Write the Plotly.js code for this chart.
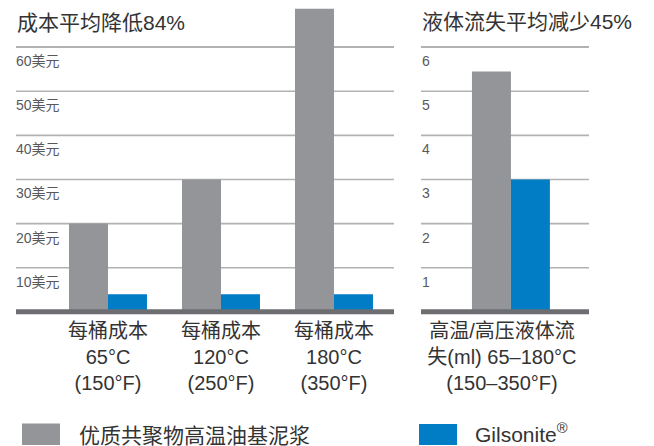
<!DOCTYPE html>
<html>
<head>
<meta charset="utf-8">
<script src="https://cdn.plot.ly/plotly-3.0.1.min.js"></script>
<style>
html,body{margin:0;padding:0;background:#fff;}
#chart{width:654px;height:446px;}
</style>
</head>
<body>
<div id="chart"></div>
<script>
// ---- data ----
var costCategories = ["每桶成本<br>65°C<br>(150°F)", "每桶成本<br>120°C<br>(250°F)", "每桶成本<br>180°C<br>(350°F)"];
var costPolymer = [20, 30, 68.7];
var costGilsonite = [4, 4, 4];
var costTickVals = [10, 20, 30, 40, 50, 60];
var costTickText = ["10美元", "20美元", "30美元", "40美元", "50美元", "60美元"];

var fluidCategories = ["高温/高压液体流<br>失(ml) 65–180°C<br>(150–350°F)"];
var fluidPolymer = [5.45];
var fluidGilsonite = [3.0];
var fluidTickVals = [1, 2, 3, 4, 5, 6];
var fluidTickText = ["1", "2", "3", "4", "5", "6"];

var seriesNames = ["优质共聚物高温油基泥浆", "Gilsonite<sup>®</sup>"];
var chartTitles = ["成本平均降低84%", "液体流失平均减少45%"];

// ---- style ----
var GRAY = "#939598", BLUE = "#007dc5";
var GRID = "#b2b2b2";
var FONT = "Liberation Sans, Arial, 'Noto Sans CJK SC', sans-serif";
var W = 654, H = 446;
function px(x){ return x / W; }
function py(y){ return 1 - y / H; }

var traces = [
  {type: "bar", x: costCategories, y: costPolymer, name: seriesNames[0], marker: {color: GRAY}, xaxis: "x", yaxis: "y", hoverinfo: "none"},
  {type: "bar", x: costCategories, y: costGilsonite, name: seriesNames[1], marker: {color: BLUE}, xaxis: "x", yaxis: "y", hoverinfo: "none"},
  {type: "bar", x: fluidCategories, y: fluidPolymer, name: seriesNames[0], marker: {color: GRAY}, xaxis: "x2", yaxis: "y2", hoverinfo: "none"},
  {type: "bar", x: fluidCategories, y: fluidGilsonite, name: seriesNames[1], marker: {color: BLUE}, xaxis: "x2", yaxis: "y2", hoverinfo: "none"}
];

var yDom = [1 - 316.2 / H, 1 - 3.1 / H];

var yCommon = {
  showgrid: true, gridcolor: GRID, gridwidth: 1.6,
  zeroline: false, showline: false, ticks: "", showticklabels: false,
  tickmode: "array",
  domain: yDom, fixedrange: true
};
var xCommon = {
  type: "category", showgrid: false, zeroline: false, showline: false, ticks: "",
  tickfont: {family: FONT, size: 20, color: "#333333"}, fixedrange: true
};

var shapes = [
  {type: "line", xref: "x domain", yref: "y", x0: 0, x1: 1, y0: 0, y1: 0, line: {color: "#6d6e71", width: 5}, layer: "above"},
  {type: "line", xref: "x2 domain", yref: "y2", x0: 0, x1: 1, y0: 0, y1: 0, line: {color: "#6d6e71", width: 5}, layer: "above"},
  {type: "rect", xref: "paper", yref: "paper", x0: px(22), x1: px(60), y0: py(445), y1: py(423.5), fillcolor: GRAY, line: {width: 0}},
  {type: "rect", xref: "paper", yref: "paper", x0: px(419), x1: px(457), y0: py(445), y1: py(424), fillcolor: BLUE, line: {width: 0}}
];

var annotations = [
  {xref: "paper", yref: "paper", x: px(15), y: py(22), xanchor: "left", yanchor: "middle", showarrow: false, text: chartTitles[0], font: {family: FONT, size: 21, color: "#333333"}},
  {xref: "paper", yref: "paper", x: px(420), y: py(21), xanchor: "left", yanchor: "middle", showarrow: false, text: chartTitles[1], font: {family: FONT, size: 21, color: "#333333"}},
  {xref: "paper", yref: "paper", x: px(77), y: py(435), xanchor: "left", yanchor: "middle", showarrow: false, text: seriesNames[0], font: {family: FONT, size: 21, color: "#333333"}},
  {xref: "paper", yref: "paper", x: px(473), y: py(433), xanchor: "left", yanchor: "middle", showarrow: false, text: seriesNames[1], font: {family: FONT, size: 21, color: "#333333"}}
];

// gridlines (as axis-referenced lines) and y tick labels just under each gridline
costTickVals.forEach(function(v, i){
  shapes.push({type: "line", xref: "x domain", yref: "y", x0: 0, x1: 1, y0: v, y1: v, line: {color: GRID, width: 1.6}, layer: "below"});
  annotations.push({xref: "x domain", yref: "y", x: 0, y: v, xanchor: "left", yanchor: "middle", yshift: -14, xshift: -2,
    showarrow: false, text: costTickText[i], font: {family: FONT, size: 14, color: "#58595b"}});
});
fluidTickVals.forEach(function(v, i){
  shapes.push({type: "line", xref: "x2 domain", yref: "y2", x0: 0, x1: 1, y0: v, y1: v, line: {color: GRID, width: 1.6}, layer: "below"});
  annotations.push({xref: "x2 domain", yref: "y2", x: 0, y: v, xanchor: "left", yanchor: "middle", yshift: -14, xshift: -1,
    showarrow: false, text: fluidTickText[i], font: {family: FONT, size: 14, color: "#58595b"}});
});

var layout = {
  width: W, height: H,
  margin: {l: 0, r: 0, t: 0, b: 0, pad: 0},
  paper_bgcolor: "#ffffff", plot_bgcolor: "#ffffff",
  showlegend: false,
  barmode: "group", bargap: 0.31, bargroupgap: 0,
  font: {family: FONT, color: "#333333"},
  xaxis: Object.assign({}, xCommon, {domain: [px(16), px(394)], range: [-0.814, 2.531], anchor: "y", ticklabelstandoff: 1}),
  yaxis: Object.assign({}, yCommon, {range: [-1, 70], tickvals: costTickVals, ticktext: costTickText, anchor: "x"}),
  xaxis2: Object.assign({}, xCommon, {domain: [px(421), px(589)], range: [-0.796, 0.691], anchor: "y2", ticklabelshift: -9, ticklabelstandoff: 1}),
  yaxis2: Object.assign({}, yCommon, {range: [-0.1, 7], tickvals: fluidTickVals, ticktext: fluidTickText, anchor: "x2"}),
  shapes: shapes,
  annotations: annotations
};

Plotly.newPlot("chart", traces, layout, {staticPlot: true, displayModeBar: false});
</script>
</body>
</html>
